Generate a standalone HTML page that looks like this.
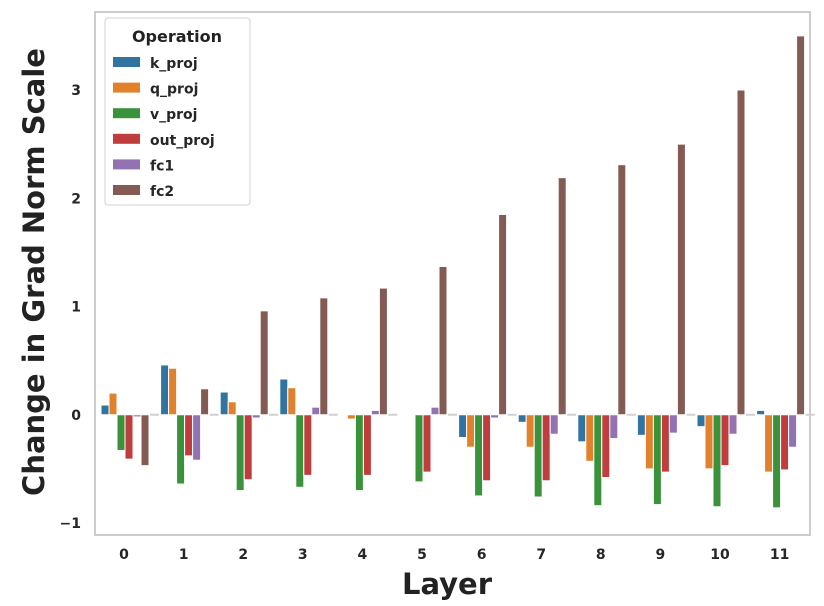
<!DOCTYPE html>
<html><head><meta charset="utf-8"><style>
body{margin:0;background:#fff;}
svg{display:block;font-family:"DejaVu Sans","Liberation Sans",sans-serif;}
</style></head><body>
<svg width="824" height="606" viewBox="0 0 824 606">
<rect x="95" y="12" width="715" height="523" fill="#fff" stroke="#cccccc" stroke-width="2"/>
<g id="bars"></g>
<g id="yticks"></g>
<g id="xticks"></g>
<text x="447" y="594" text-anchor="middle" font-size="29" font-weight="bold" fill="#222">Layer</text>
<text transform="translate(44,272) rotate(-90)" text-anchor="middle" font-size="29" font-weight="bold" fill="#222">Change in Grad Norm Scale</text>
<g>
<rect x="105" y="18" width="145" height="187" rx="3" fill="#fff" stroke="#d0d0d0" stroke-width="1"/>
<text x="177" y="42" text-anchor="middle" font-size="16" font-weight="bold" fill="#222">Operation</text>
<g id="legend-entries"></g>
</g>
</svg>
<script>
const layers = ["0","1","2","3","4","5","6","7","8","9","10","11"];
const ops = ["k_proj","q_proj","v_proj","out_proj","fc1","fc2"];
const colors = ["#3274a1","#e1812c","#3a923a","#c03d3e","#9372b2","#845b53"];
const k_proj = [0.09,0.46,0.21,0.33,0,0,-0.21,-0.07,-0.25,-0.19,-0.11,0.04];
const q_proj = [0.20,0.43,0.12,0.25,-0.04,0,-0.30,-0.30,-0.43,-0.50,-0.50,-0.53];
const v_proj = [-0.33,-0.64,-0.70,-0.67,-0.70,-0.62,-0.75,-0.76,-0.84,-0.83,-0.85,-0.86];
const out_proj = [-0.41,-0.38,-0.60,-0.56,-0.56,-0.53,-0.61,-0.61,-0.58,-0.53,-0.47,-0.51];
const fc1 = [-0.02,-0.42,-0.03,0.07,0.04,0.07,-0.03,-0.18,-0.22,-0.17,-0.18,-0.30];
const fc2 = [-0.47,0.24,0.96,1.08,1.17,1.37,1.85,2.19,2.31,2.50,3.00,3.50];
const yTicks = [-1,0,1,2,3];
const series = [k_proj,q_proj,v_proj,out_proj,fc1,fc2];
const NS="http://www.w3.org/2000/svg";
function y(v){return 414.75 - v*108.25;}
function xc(i){return 125 + i*59.6;}
const slot=8;
const bars=document.getElementById('bars');
layers.forEach((l,i)=>{
  const start=xc(i)-slot*3;
  series.forEach((s,j)=>{
    const v=s[i];
    const r=document.createElementNS(NS,'rect');
    r.setAttribute('x',start+j*slot);
    r.setAttribute('width',slot);
    r.setAttribute('y',Math.min(y(v),y(0)));
    r.setAttribute('height',Math.abs(y(v)-y(0)));
    r.setAttribute('fill',colors[j]);
    r.setAttribute('stroke','#fff');
    r.setAttribute('stroke-width','1');
    
    
    bars.appendChild(r);
  });
  const g=document.createElementNS(NS,'line');
  g.setAttribute('x1',start+6*slot+1);g.setAttribute('x2',start+6*slot+10);
  g.setAttribute('y1',y(0));g.setAttribute('y2',y(0));
  g.setAttribute('stroke','#d0d0d0');g.setAttribute('stroke-width','2');
  
  
  bars.appendChild(g);
  const t=document.createElementNS(NS,'text');
  t.setAttribute('x',xc(i)-1);t.setAttribute('y',559);
  t.setAttribute('text-anchor','middle');t.setAttribute('font-size','14');
  t.setAttribute('font-weight','bold');t.setAttribute('fill','#262626');
  
  
  t.textContent=l;
  document.getElementById('xticks').appendChild(t);
});
yTicks.forEach(v=>{
  const t=document.createElementNS(NS,'text');
  t.setAttribute('x',81);t.setAttribute('y',y(v)+5);
  t.setAttribute('text-anchor','end');t.setAttribute('font-size','14');
  t.setAttribute('font-weight','bold');t.setAttribute('fill','#262626');
  
  
  t.textContent=v<0?'\u2212'+Math.abs(v):String(v);
  document.getElementById('yticks').appendChild(t);
});
const le=document.getElementById('legend-entries');
ops.forEach((o,j)=>{
  const yy=63+j*25.6;
  const r=document.createElementNS(NS,'rect');
  r.setAttribute('x',113);r.setAttribute('y',yy-6);r.setAttribute('width',27);r.setAttribute('height',10);
  r.setAttribute('fill',colors[j]);
  
  
  le.appendChild(r);
  const t=document.createElementNS(NS,'text');
  t.setAttribute('x',150);t.setAttribute('y',yy+5);
  t.setAttribute('font-size','14');t.setAttribute('font-weight','bold');t.setAttribute('fill','#262626');
  
  
  t.textContent=o;
  le.appendChild(t);
});
</script>
</body></html>
